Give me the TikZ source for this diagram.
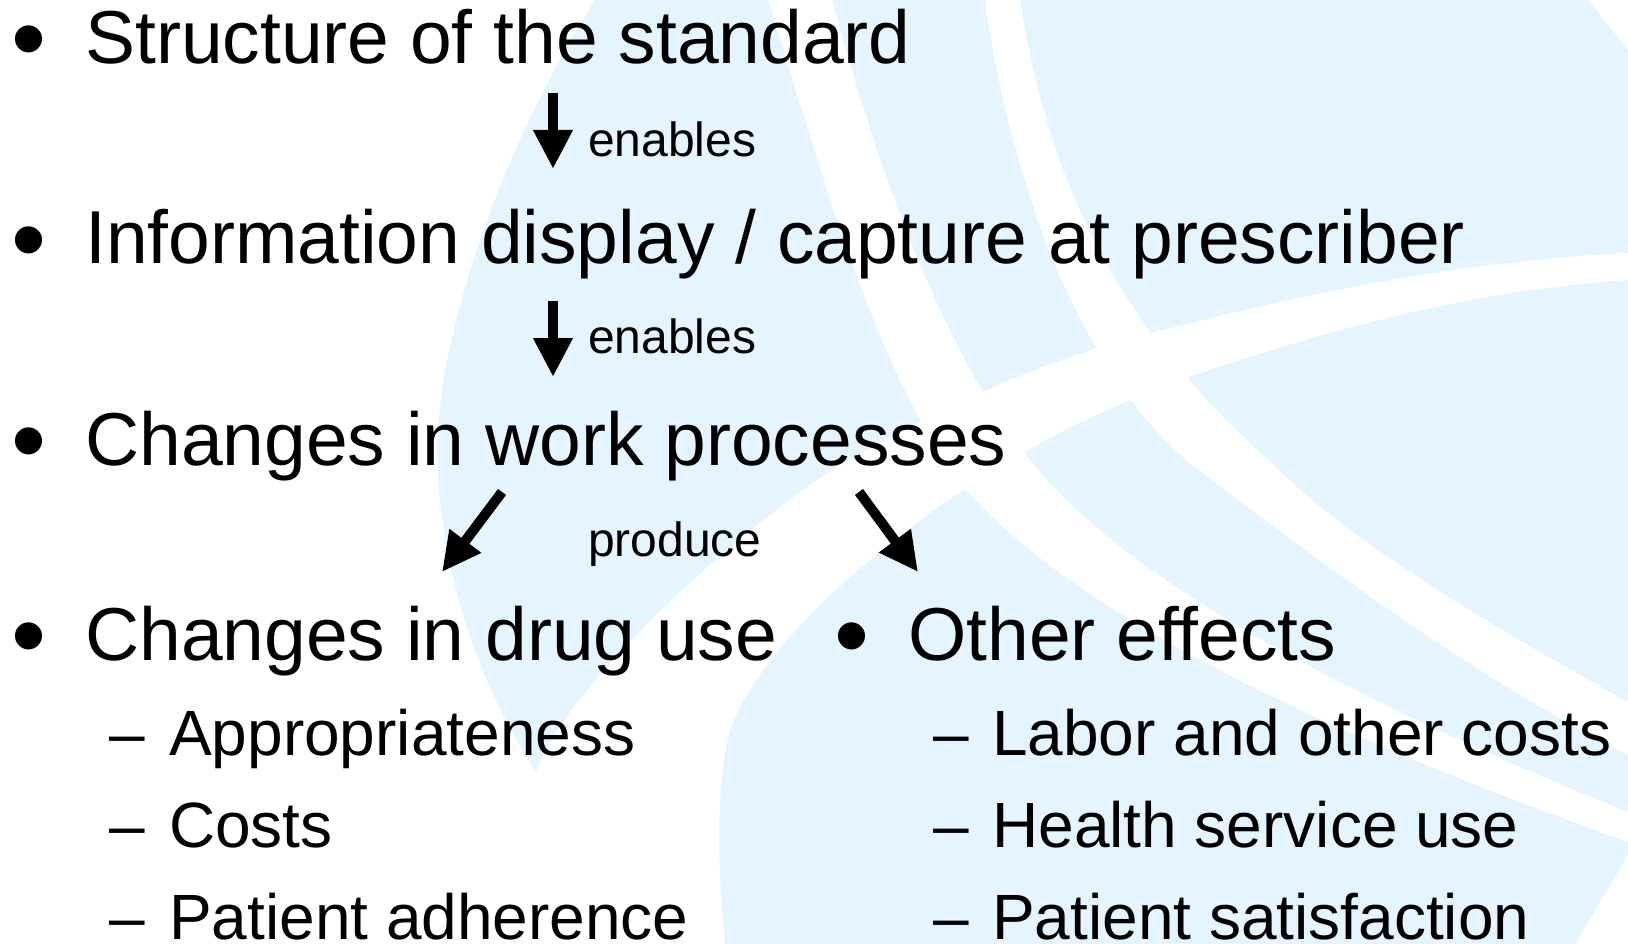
\documentclass[tikz,border=0pt]{standalone}
\usepackage{fontspec}
\setmainfont{Liberation Sans}
\usetikzlibrary{arrows.meta}
\definecolor{globeblue}{RGB}{229,245,255}
\tikzset{
  main/.style={anchor=base west, inner sep=0pt, font=\fontsize{75}{80}\selectfont},
  sub/.style={anchor=base west, inner sep=0pt, font=\fontsize{64}{70}\selectfont},
  lbl/.style={anchor=base west, inner sep=0pt, font=\fontsize{48}{50}\selectfont},
  bul/.style={anchor=base, inner sep=0pt, font=\fontsize{100}{100}\selectfont},
  flow/.style={line width=10pt, -{Triangle[length=39pt,width=37pt]}},
  band/.style={fill=white, draw=none},
}
\begin{document}
\begin{tikzpicture}[x=1pt,y=-1pt]
\useasboundingbox (0,0) rectangle (1628,944);
\fill[white] (0,0) rectangle (1628,944);
\begin{scope}
\clip (0,0) rectangle (1628,944);
% upper part of globe
\fill[globeblue] (595,0) .. controls (500,150) and (430,350) .. (438,472)
  .. controls (445,600) and (490,700) .. (536,772)
  .. controls (560,700) and (700,560) .. (828,472)
  .. controls (950,400) and (1060,355) .. (1151,333)
  .. controls (1300,295) and (1450,262) .. (1628,253)
  -- (1628,50) -- (1588,0) -- cycle;
% lower part of globe
\fill[globeblue] (1628,280) .. controls (1450,292) and (1300,340) .. (1188,377)
  .. controls (1100,410) and (1030,445) .. (965,489)
  .. controls (860,560) and (760,650) .. (730,730)
  .. controls (715,790) and (718,870) .. (725,944)
  -- (1575,944) -- (1628,855) -- cycle;
% meridian band A
\fill[band] (768,0) .. controls (830,200) and (880,380) .. (965,489)
  .. controls (1100,640) and (1400,760) .. (1628,842)
  -- (1628,812) .. controls (1400,720) and (1150,600) .. (1040,472)
  .. controls (950,370) and (880,180) .. (832,0) -- cycle;
% meridian band B
\fill[band] (985,0) .. controls (1010,180) and (1080,380) .. (1201,472)
  .. controls (1330,570) and (1480,680) .. (1628,755)
  -- (1628,702) .. controls (1480,620) and (1350,540) .. (1281,472)
  .. controls (1180,380) and (1060,260) .. (1020,0) -- cycle;
\end{scope}

% bullets and texts
\node[bul] (b1) at (29,73) {•};
\node[main] (t1) at (85,64) {Structure of the standard};
\node[bul] (b2) at (29,273) {•};
\node[main] (t2) at (85,264) {Information display / capture at prescriber};
\node[bul] (b3) at (29,474) {•};
\node[main] (t3) at (85,465) {Changes in work processes};
\node[bul] (b4) at (29,669) {•};
\node[main] (t4) at (85,660) {Changes in drug use};
\node[bul] (b5) at (852,669) {•};
\node[main] (t5) at (908,660) {Other effects};

\node[sub] (d1) at (109,755) {–};
\node[sub] (s1) at (169,755) {Appropriateness};
\node[sub] (d2) at (109,847) {–};
\node[sub] (s2) at (169,847) {Costs};
\node[sub] (d3) at (109,939) {–};
\node[sub] (s3) at (169,939) {Patient adherence};
\node[sub] (d4) at (933,755) {–};
\node[sub] (s4) at (992,755) {Labor and other costs};
\node[sub] (d5) at (933,847) {–};
\node[sub] (s5) at (992,847) {Health service use};
\node[sub] (d6) at (933,939) {–};
\node[sub] (s6) at (992,939) {Patient satisfaction};

% connector labels
\node[lbl] (l1) at (588,157) {enables};
\node[lbl] (l2) at (588,353) {enables};
\node[lbl] (l3) at (588,556) {produce};

% arrow end points
\coordinate (a1s) at (553,93);
\coordinate (a1e) at (553,169);
\coordinate (a2s) at (553,301);
\coordinate (a2e) at (553,377);
\coordinate (a3s) at (502,492);
\coordinate (a3e) at (442,572);
\coordinate (a4s) at (859,492);
\coordinate (a4e) at (918,572);
\draw[flow] (a1s) -- (a1e);
\draw[flow] (a2s) -- (a2e);
\draw[flow] (a3s) -- (a3e);
\draw[flow] (a4s) -- (a4e);
\end{tikzpicture}
\end{document}
